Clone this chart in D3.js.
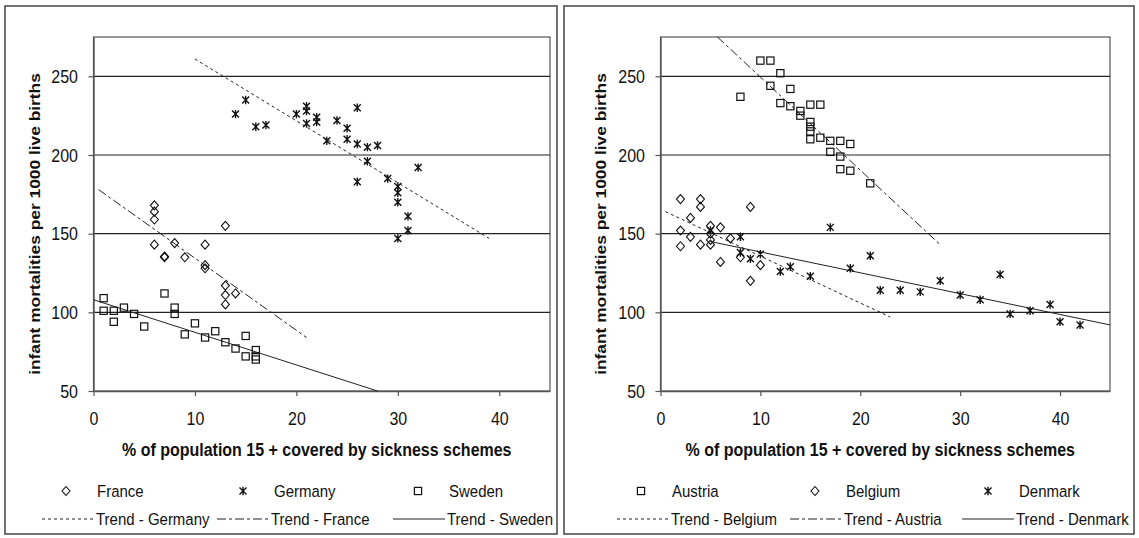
<!DOCTYPE html>
<html>
<head>
<meta charset="utf-8">
<script src="https://cdn.jsdelivr.net/npm/d3@7"></script>
<style>
body{margin:0;background:#fff}
svg{display:block}
text{font-family:"Liberation Sans",Arial,sans-serif;fill:#111}
</style>
</head>
<body>
<svg id="chart" width="1139" height="538"></svg>
<script>
// ---- data ----
const xTicks=[0,10,20,30,40]
const yTicks=[50,100,150,200,250]
const xTitle='% of population 15 + covered by sickness schemes'
const yTitle='infant mortalities per 1000 live births'

// left panel
const france=[[6,168],[6,164],[6,159],[6,143],[7,135],[7,135.5],[8,144],[9,135],[11,143],[11,130],[11,128],[13,155],[13,117],[13,111],[13,105],[14,112]]
const germany=[[14,226],[15,235],[16,218],[17,219],[20,226],[21,231],[21,228],[21,220],[22,224],[22,221],[23,209],[24,222],[25,217],[25,210],[26,230],[26,207],[26,183],[27,205],[27,196],[28,206],[29,185],[30,180],[30,176],[30,170],[30,147],[31,161],[31,152],[32,192]]
const sweden=[[1,109],[1,101],[2,101],[2,94],[3,103],[4,99],[5,91],[7,112],[8,103],[8,99],[9,86],[10,93],[11,84],[12,88],[13,81],[14,77],[15,85],[15,72],[16,76],[16,72],[16,70]]
const trendGermany=[[10,261],[39,147]]
const trendFrance=[[0.5,178],[21,84]]
const trendSweden=[[0,108],[28,50]]

// right panel
const austria=[[8,237],[10,260],[11,260],[11,244],[12,252],[12,233],[13,242],[13,231],[14,228],[14,225],[15,232],[15,221],[15,218],[15,215],[15,210],[16,232],[16,211],[17,209],[17,202],[18,209],[18,199],[18,191],[19,207],[19,190],[21,182]]
const belgium=[[2,172],[2,152],[2,142],[3,160],[3,148],[4,172],[4,167],[4,143],[5,155],[5,150],[5,146],[5,143],[6,154],[6,132],[7,147],[8,135],[9,167],[9,120],[10,130]]
const denmark=[[5,152],[8,148],[8,138],[9,134],[10,137],[12,126],[13,129],[15,123],[17,154],[19,128],[21,136],[22,114],[24,114],[26,113],[28,120],[30,111],[32,108],[34,124],[35,99],[37,101],[39,105],[40,94],[42,92]]
const trendBelgium=[[0.5,164],[23,97]]
const trendAustria=[[5.7,275],[28,143]]
const trendDenmark=[[5,145],[45,92]]

const SY=1.12 // the picture is a bit stretched vertically
const INK='#111'
const dashStyle={dot:'3,3',dashdot:'9,3,3,3',solid:null}

const panels=[
  {frame:[5,6,557,534],x0:93.5,x1:550,yTitleX:35,
   scatter:[{data:france,shape:'diamond'},{data:germany,shape:'star'},{data:sweden,shape:'square'}],
   trends:[{data:trendGermany,style:'dot'},{data:trendFrance,style:'dashdot'},{data:trendSweden,style:'solid'}],
   legend1:[{shape:'diamond',name:'France',x:66},{shape:'star',name:'Germany',x:243},{shape:'square',name:'Sweden',x:418}],
   legend2:[{style:'dot',name:'Trend - Germany',x:42},{style:'dashdot',name:'Trend - France',x:217},{style:'solid',name:'Trend - Sweden',x:393}]},
  {frame:[564,6,1134,534],x0:660.5,x1:1110,yTitleX:601,
   scatter:[{data:austria,shape:'square'},{data:belgium,shape:'diamond'},{data:denmark,shape:'star'}],
   trends:[{data:trendBelgium,style:'dot'},{data:trendAustria,style:'dashdot'},{data:trendDenmark,style:'solid'}],
   legend1:[{shape:'square',name:'Austria',x:641},{shape:'diamond',name:'Belgium',x:815},{shape:'star',name:'Denmark',x:988}],
   legend2:[{style:'dot',name:'Trend - Belgium',x:617},{style:'dashdot',name:'Trend - Austria',x:790},{style:'solid',name:'Trend - Denmark',x:962}]}
]

const svg=d3.select('#chart')

function marker(g,shape){//draw one marker centred on 0,0
  if(shape==='diamond'){
    g.append('path').attr('d','M0,-4.5L4,0L0,4.5L-4,0Z')
      .attr('fill','none').attr('stroke',INK).attr('stroke-width',1.1)
  }else if(shape==='square'){
    g.append('rect').attr('x',-3.6).attr('y',-3.6).attr('width',7.2).attr('height',7.2)
      .attr('fill','none').attr('stroke',INK).attr('stroke-width',1.2)
  }else{
    g.append('path').attr('d','M-3.5,-3.5L3.5,3.5M-3.5,3.5L3.5,-3.5M0,-4.2V4.2')
      .attr('fill','none').attr('stroke',INK).attr('stroke-width',1.4)
  }
}

function label(g,x,y,txt,opt){
  opt=opt||{}
  return g.append('text')
    .attr('transform',`translate(${x},${y}) scale(1,${SY})`+(opt.rotate?' rotate(-90)':''))
    .attr('dy','0.35em')
    .attr('text-anchor',opt.anchor||'start')
    .attr('font-size',opt.size||15)
    .attr('font-weight',opt.bold?'bold':'normal')
    .text(txt)
}

panels.forEach(p=>{
  const g=svg.append('g')
  const x=d3.scaleLinear().domain([0,45]).range([p.x0,p.x1])
  const y=d3.scaleLinear().domain([50,275]).range([391,37])

  //外框
  const f=p.frame
  g.append('rect').attr('x',f[0]).attr('y',f[1]).attr('width',f[2]-f[0]).attr('height',f[3]-f[1])
    .attr('fill','none').attr('stroke','#444').attr('stroke-width',1.5)

  // plot border
  g.append('rect').attr('x',p.x0).attr('y',y(275)).attr('width',p.x1-p.x0).attr('height',y(50)-y(275))
    .attr('fill','none').attr('stroke','#555').attr('stroke-width',1.2)

  // grid
  g.selectAll('line.grid').data(yTicks.slice(1)).enter().append('line')
    .attr('class','grid')
    .attr('x1',p.x0).attr('x2',p.x1)
    .attr('y1',d=>y(d)).attr('y2',d=>y(d))
    .attr('stroke','#222').attr('stroke-width',1.2)

  // axes
  const ax=g.append('g').attr('transform',`translate(0,${y(50)})`)
    .call(d3.axisBottom(x).tickValues(xTicks).tickSize(5).tickSizeOuter(0))
  const ay=g.append('g').attr('transform',`translate(${p.x0},0)`)
    .call(d3.axisLeft(y).tickValues(yTicks).tickSize(5).tickSizeOuter(0))
  ;[ax,ay].forEach(a=>{
    a.select('.domain').attr('stroke','#555').attr('stroke-width',1.4)
    a.selectAll('.tick line').attr('stroke','#555').attr('stroke-width',1.2)
  })
  ax.selectAll('.tick text').attr('y',null).attr('dy','0.35em')
    .attr('transform',`translate(0,28) scale(1,${SY})`)
    .attr('font-size',16).attr('font-family','"Liberation Sans",Arial,sans-serif').attr('fill','#222')
  ay.selectAll('.tick text').attr('x',null).attr('dy','0.35em')
    .attr('transform',`translate(-15.5,0) scale(1,${SY})`)
    .attr('font-size',16).attr('font-family','"Liberation Sans",Arial,sans-serif').attr('fill','#222')

  // trend lines
  const line=d3.line().x(d=>x(d[0])).y(d=>y(d[1]))
  p.trends.forEach(t=>{
    g.append('path').datum(t.data).attr('d',line)
      .attr('fill','none').attr('stroke','#222').attr('stroke-width',1)
      .attr('stroke-dasharray',dashStyle[t.style])
  })

  // points
  p.scatter.forEach(s=>{
    g.selectAll(null).data(s.data).enter().append('g')
      .attr('transform',d=>`translate(${x(d[0])},${y(d[1])})`)
      .each(function(){marker(d3.select(this),s.shape)})
  })

  // titles
  label(g,(p.x0+p.x1)/2-5,450,xTitle,{anchor:'middle',bold:true,size:16})
  label(g,p.yTitleX,224,yTitle,{anchor:'middle',bold:true,size:15.5,rotate:true})

  // legend
  p.legend1.forEach(l=>{
    marker(g.append('g').attr('transform',`translate(${l.x},491)`),l.shape)
    label(g,l.x+31,491,l.name)
  })
  p.legend2.forEach(l=>{
    g.append('line').attr('x1',l.x).attr('x2',l.x+52).attr('y1',519).attr('y2',519)
      .attr('stroke','#222').attr('stroke-width',1.2).attr('stroke-dasharray',dashStyle[l.style])
    label(g,l.x+54,519,l.name)
  })
})
</script>
</body>
</html>
